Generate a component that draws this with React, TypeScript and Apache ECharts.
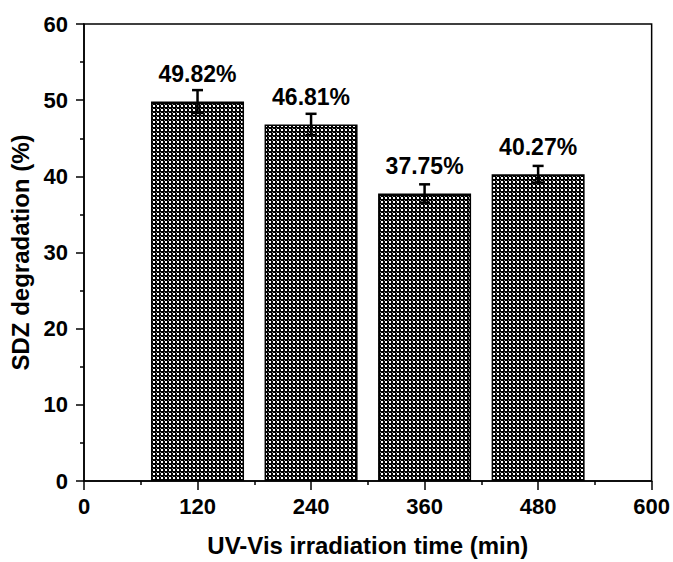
import React, { useEffect, useRef } from "react";
import * as echarts from "echarts";

const times = [120, 240, 360, 480];
const degradation = [49.82, 46.81, 37.75, 40.27];
const errors = [1.5, 1.4, 1.2, 1.1];
const xTicks = [0, 120, 240, 360, 480, 600];
const yTicks = [0, 10, 20, 30, 40, 50, 60];

const FONT = "'Liberation Sans', Arial, sans-serif";

function makePattern() {
  const c = document.createElement("canvas");
  c.width = 4;
  c.height = 4;
  const ctx = c.getContext("2d")!;
  ctx.fillStyle = "#000";
  ctx.fillRect(0, 0, 4, 4);
  ctx.fillStyle = "#fff";
  ctx.fillRect(1, 1, 2, 2);
  ctx.fillStyle = "#888";
  ctx.fillRect(0, 0, 1, 1);
  return c;
}

export default function App() {
  const ref = useRef<HTMLDivElement>(null);
  useEffect(() => {
    if (!ref.current) return;
    document.body.style.margin = "0";
    const chart = echarts.init(ref.current, undefined, { renderer: "svg" });
    const pattern = makePattern();
    const barData = times.map((t, i) => [t, degradation[i]]);
    const errData = times.map((t, i) => [t, degradation[i], errors[i]]);
    chart.setOption({
      animation: false,
      grid: {
        left: 84,
        right: 21,
        top: 24,
        bottom: 80,
        show: true,
        borderColor: "#000",
        borderWidth: 1.5,
        backgroundColor: "transparent",
      },
      xAxis: {
        type: "value",
        min: 0,
        max: 600,
        interval: 120,
        name: "UV-Vis irradiation time (min)",
        nameLocation: "middle",
        nameGap: 52,
        nameTextStyle: { fontFamily: FONT, fontWeight: "bold", fontSize: 24, color: "#000" },
        axisLine: { show: true, lineStyle: { color: "#000", width: 1.5 } },
        axisTick: { show: true, inside: false, length: 9, lineStyle: { color: "#000", width: 1.5 } },
        minorTick: { show: true, splitNumber: 2, length: 4, lineStyle: { color: "#000", width: 1.5 } },
        splitLine: { show: false },
        axisLabel: {
          margin: 14,
          fontFamily: FONT,
          fontWeight: "bold",
          fontSize: 22,
          color: "#000",
          formatter: (v: number) => (xTicks.includes(v) ? String(v) : ""),
        },
      },
      yAxis: {
        type: "value",
        min: 0,
        max: 60,
        interval: 10,
        name: "SDZ degradation (%)",
        nameLocation: "middle",
        nameGap: 47,
        nameTextStyle: { fontFamily: FONT, fontWeight: "bold", fontSize: 24, color: "#000" },
        axisLine: { show: true, lineStyle: { color: "#000", width: 1.5 } },
        axisTick: { show: true, inside: false, length: 8, lineStyle: { color: "#000", width: 1.5 } },
        minorTick: { show: true, splitNumber: 2, length: 4, lineStyle: { color: "#000", width: 1.5 } },
        splitLine: { show: false },
        axisLabel: {
          margin: 16,
          fontFamily: FONT,
          fontWeight: "bold",
          fontSize: 22,
          color: "#000",
          formatter: (v: number) => (yTicks.includes(v) ? String(v) : ""),
        },
      },
      series: [
        {
          type: "bar",
          data: barData,
          barWidth: 93,
          itemStyle: {
            color: { image: pattern, repeat: "repeat", imageWidth: 4, imageHeight: 4 } as any,
            borderColor: "#000",
            borderWidth: 1.5,
          },
          label: {
            show: true,
            position: "top",
            distance: 16,
            fontFamily: FONT,
            fontWeight: "bold",
            fontSize: 23,
            color: "#000",
            formatter: (p: any) => p.value[1].toFixed(2) + "%",
          },
        },
        {
          type: "custom",
          data: errData,
          z: 5,
          renderItem: (params: any, api: any) => {
            const x = api.value(0);
            const y = api.value(1);
            const e = api.value(2);
            const top = api.coord([x, y + e]);
            const bot = api.coord([x, y - e]);
            const hw = 5.5;
            const st = { stroke: "#000", lineWidth: 2.5 };
            return {
              type: "group",
              children: [
                { type: "line", shape: { x1: top[0], y1: top[1], x2: bot[0], y2: bot[1] }, style: st },
                { type: "line", shape: { x1: top[0] - hw, y1: top[1], x2: top[0] + hw, y2: top[1] }, style: st },
                { type: "line", shape: { x1: bot[0] - hw, y1: bot[1], x2: bot[0] + hw, y2: bot[1] }, style: st },
              ],
            };
          },
        },
      ],
    });
    return () => chart.dispose();
  }, []);
  return <div ref={ref} style={{ width: 673, height: 562 }} />;
}
